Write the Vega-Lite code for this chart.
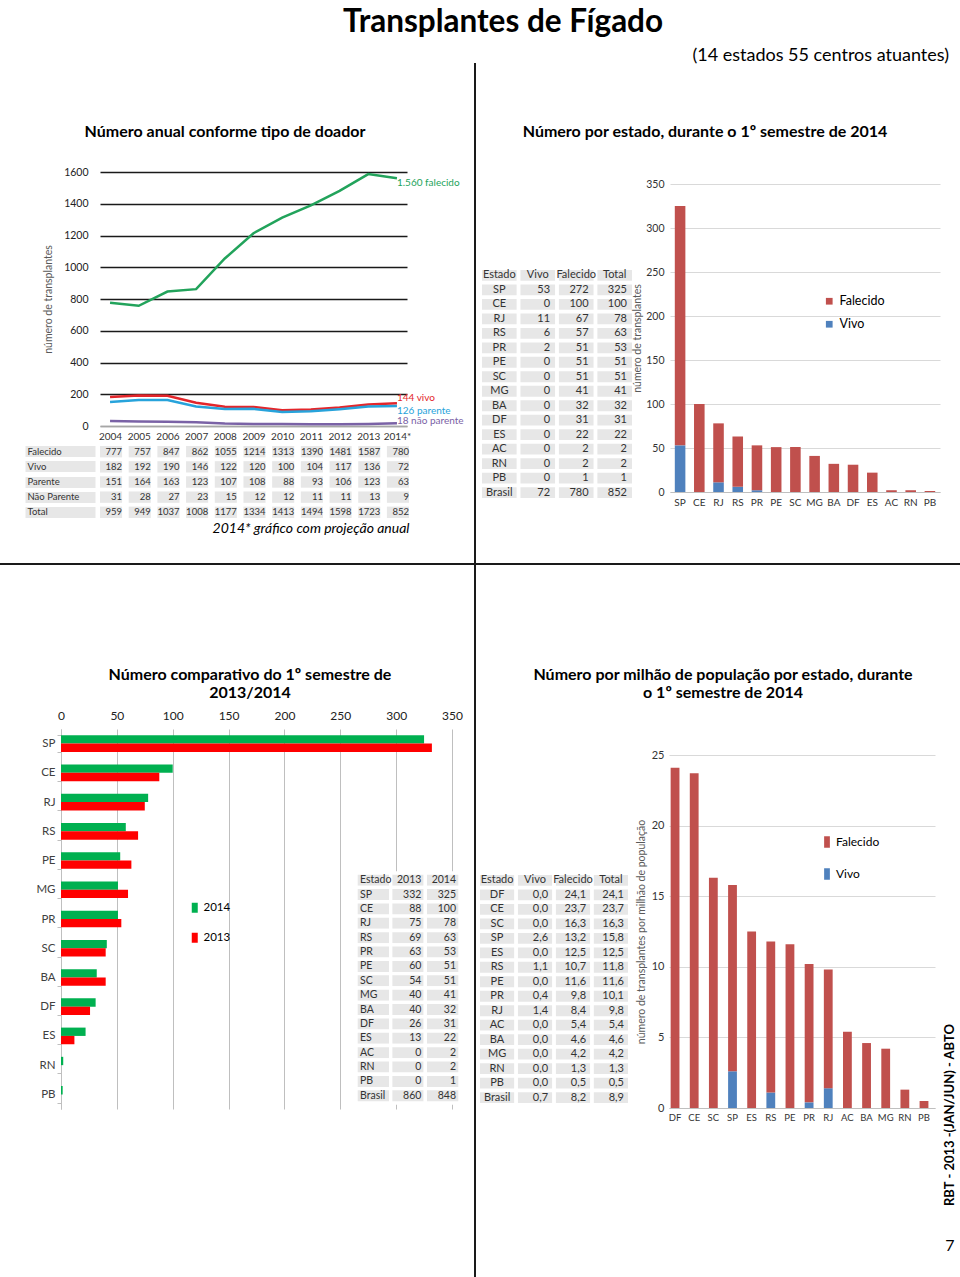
{
  "$schema": "https://vega.github.io/schema/vega-lite/v6.json",
  "background": "white",
  "padding": {"top": 6, "left": 0, "right": 0, "bottom": 0},
  "config": {
    "font": "Lato",
    "view": {"stroke": null},
    "locale": {"number": {"decimal": ",", "thousands": ".", "grouping": [3], "currency": ["", ""]}},
    "axis": {"labelColor": "#404040", "titleColor": "#595959", "titleFontWeight": "normal", "labelFont": "Lato", "titleFont": "Lato"},
    "legend": {"labelFont": "Lato", "labelColor": "#000"},
    "title": {"font": "Lato", "color": "#000"}
  },
  "title": {"text": "Transplantes de Fígado", "fontSize": 31.5, "fontWeight": "bold", "anchor": "middle", "offset": 9, "dx": 23},
  "datasets": {
    "linhas": [
      {"ano": "2004", "Falecido": 777, "Vivo": 182, "Parente": 151, "Não Parente": 31},
      {"ano": "2005", "Falecido": 757, "Vivo": 192, "Parente": 164, "Não Parente": 28},
      {"ano": "2006", "Falecido": 847, "Vivo": 190, "Parente": 163, "Não Parente": 27},
      {"ano": "2007", "Falecido": 862, "Vivo": 146, "Parente": 123, "Não Parente": 23},
      {"ano": "2008", "Falecido": 1055, "Vivo": 122, "Parente": 107, "Não Parente": 15},
      {"ano": "2009", "Falecido": 1214, "Vivo": 120, "Parente": 108, "Não Parente": 12},
      {"ano": "2010", "Falecido": 1313, "Vivo": 100, "Parente": 88, "Não Parente": 12},
      {"ano": "2011", "Falecido": 1390, "Vivo": 104, "Parente": 93, "Não Parente": 11},
      {"ano": "2012", "Falecido": 1481, "Vivo": 117, "Parente": 106, "Não Parente": 11},
      {"ano": "2013", "Falecido": 1587, "Vivo": 136, "Parente": 123, "Não Parente": 13},
      {"ano": "2014*", "Falecido": 1560, "Vivo": 144, "Parente": 126, "Não Parente": 18}
    ],
    "rotulos": [
      {"ano": "2014*", "serie": "Falecido", "valor": 1560, "texto": "1.560 falecido"},
      {"ano": "2014*", "serie": "Vivo", "valor": 144, "texto": "144 vivo"},
      {"ano": "2014*", "serie": "Parente", "valor": 126, "texto": "126  parente"},
      {"ano": "2014*", "serie": "Não Parente", "valor": 18, "texto": "18 não parente"}
    ],
    "tabela_anual": [
      {"ano": "2004", "Falecido": 777, "Vivo": 182, "Parente": 151, "Não Parente": 31, "Total": 959},
      {"ano": "2005", "Falecido": 757, "Vivo": 192, "Parente": 164, "Não Parente": 28, "Total": 949},
      {"ano": "2006", "Falecido": 847, "Vivo": 190, "Parente": 163, "Não Parente": 27, "Total": 1037},
      {"ano": "2007", "Falecido": 862, "Vivo": 146, "Parente": 123, "Não Parente": 23, "Total": 1008},
      {"ano": "2008", "Falecido": 1055, "Vivo": 122, "Parente": 107, "Não Parente": 15, "Total": 1177},
      {"ano": "2009", "Falecido": 1214, "Vivo": 120, "Parente": 108, "Não Parente": 12, "Total": 1334},
      {"ano": "2010", "Falecido": 1313, "Vivo": 100, "Parente": 88, "Não Parente": 12, "Total": 1413},
      {"ano": "2011", "Falecido": 1390, "Vivo": 104, "Parente": 93, "Não Parente": 11, "Total": 1494},
      {"ano": "2012", "Falecido": 1481, "Vivo": 117, "Parente": 106, "Não Parente": 11, "Total": 1598},
      {"ano": "2013", "Falecido": 1587, "Vivo": 136, "Parente": 123, "Não Parente": 13, "Total": 1723},
      {"ano": "2014*", "Falecido": 780, "Vivo": 72, "Parente": 63, "Não Parente": 9, "Total": 852}
    ],
    "estados": [
      {"Estado": "SP", "Vivo": 53, "Falecido": 272, "Total": 325},
      {"Estado": "CE", "Vivo": 0, "Falecido": 100, "Total": 100},
      {"Estado": "RJ", "Vivo": 11, "Falecido": 67, "Total": 78},
      {"Estado": "RS", "Vivo": 6, "Falecido": 57, "Total": 63},
      {"Estado": "PR", "Vivo": 2, "Falecido": 51, "Total": 53},
      {"Estado": "PE", "Vivo": 0, "Falecido": 51, "Total": 51},
      {"Estado": "SC", "Vivo": 0, "Falecido": 51, "Total": 51},
      {"Estado": "MG", "Vivo": 0, "Falecido": 41, "Total": 41},
      {"Estado": "BA", "Vivo": 0, "Falecido": 32, "Total": 32},
      {"Estado": "DF", "Vivo": 0, "Falecido": 31, "Total": 31},
      {"Estado": "ES", "Vivo": 0, "Falecido": 22, "Total": 22},
      {"Estado": "AC", "Vivo": 0, "Falecido": 2, "Total": 2},
      {"Estado": "RN", "Vivo": 0, "Falecido": 2, "Total": 2},
      {"Estado": "PB", "Vivo": 0, "Falecido": 1, "Total": 1},
      {"Estado": "Brasil", "Vivo": 72, "Falecido": 780, "Total": 852}
    ],
    "cab_estados": [{"col": "Estado"}, {"col": "Vivo"}, {"col": "Falecido"}, {"col": "Total"}],
    "comparativo_barras": [
      {"Estado": "SP", "2014": 325, "2013": 332},
      {"Estado": "CE", "2014": 100, "2013": 88},
      {"Estado": "RJ", "2014": 78, "2013": 75},
      {"Estado": "RS", "2014": 58, "2013": 69},
      {"Estado": "PE", "2014": 53, "2013": 63},
      {"Estado": "MG", "2014": 51, "2013": 60},
      {"Estado": "PR", "2014": 51, "2013": 54},
      {"Estado": "SC", "2014": 41, "2013": 40},
      {"Estado": "BA", "2014": 32, "2013": 40},
      {"Estado": "DF", "2014": 31, "2013": 26},
      {"Estado": "ES", "2014": 22, "2013": 12},
      {"Estado": "RN", "2014": 2, "2013": 0},
      {"Estado": "PB", "2014": 1.5, "2013": 0}
    ],
    "comparativo_tabela": [
      {"Estado": "Estado", "2013": "2013", "2014": "2014"},
      {"Estado": "SP", "2013": 332, "2014": 325},
      {"Estado": "CE", "2013": 88, "2014": 100},
      {"Estado": "RJ", "2013": 75, "2014": 78},
      {"Estado": "RS", "2013": 69, "2014": 63},
      {"Estado": "PR", "2013": 63, "2014": 53},
      {"Estado": "PE", "2013": 60, "2014": 51},
      {"Estado": "SC", "2013": 54, "2014": 51},
      {"Estado": "MG", "2013": 40, "2014": 41},
      {"Estado": "BA", "2013": 40, "2014": 32},
      {"Estado": "DF", "2013": 26, "2014": 31},
      {"Estado": "ES", "2013": 13, "2014": 22},
      {"Estado": "AC", "2013": 0, "2014": 2},
      {"Estado": "RN", "2013": 0, "2014": 2},
      {"Estado": "PB", "2013": 0, "2014": 1},
      {"Estado": "Brasil", "2013": 860, "2014": 848}
    ],
    "pmp": [
      {"Estado": "DF", "Vivo": 0.0, "Falecido": 24.1, "Total": 24.1},
      {"Estado": "CE", "Vivo": 0.0, "Falecido": 23.7, "Total": 23.7},
      {"Estado": "SC", "Vivo": 0.0, "Falecido": 16.3, "Total": 16.3},
      {"Estado": "SP", "Vivo": 2.6, "Falecido": 13.2, "Total": 15.8},
      {"Estado": "ES", "Vivo": 0.0, "Falecido": 12.5, "Total": 12.5},
      {"Estado": "RS", "Vivo": 1.1, "Falecido": 10.7, "Total": 11.8},
      {"Estado": "PE", "Vivo": 0.0, "Falecido": 11.6, "Total": 11.6},
      {"Estado": "PR", "Vivo": 0.4, "Falecido": 9.8, "Total": 10.1},
      {"Estado": "RJ", "Vivo": 1.4, "Falecido": 8.4, "Total": 9.8},
      {"Estado": "AC", "Vivo": 0.0, "Falecido": 5.4, "Total": 5.4},
      {"Estado": "BA", "Vivo": 0.0, "Falecido": 4.6, "Total": 4.6},
      {"Estado": "MG", "Vivo": 0.0, "Falecido": 4.2, "Total": 4.2},
      {"Estado": "RN", "Vivo": 0.0, "Falecido": 1.3, "Total": 1.3},
      {"Estado": "PB", "Vivo": 0.0, "Falecido": 0.5, "Total": 0.5},
      {"Estado": "Brasil", "Vivo": 0.7, "Falecido": 8.2, "Total": 8.9}
    ]
  },
  "spacing": 0,
  "resolve": {"scale": {"color": "independent"}},
  "vconcat": [
    {
      "title": {"text": "(14 estados 55 centros atuantes)", "anchor": "end", "frame": "bounds", "fontSize": 18, "fontWeight": "normal", "offset": -2, "dx": 9},
      "spacing": 10,
      "resolve": {"scale": {"color": "independent"}},
      "hconcat": [
        {"width": 9, "height": 1, "data": {"values": [{}]}, "mark": {"type": "rect", "color": "white"}},
        {
          "bounds": "flush",
          "spacing": 20,
          "resolve": {"scale": {"color": "independent"}},
          "vconcat": [
            {
              "width": 250, "height": 89,
              "data": {"values": [{"texto": "Número anual conforme tipo de doador"}]},
              "mark": {"type": "text", "fontSize": 16, "fontWeight": "bold", "color": "#000", "dy": 24},
              "encoding": {"text": {"field": "texto"}}
            },
            {
              "width": 307, "height": 254,
              "encoding": {
                "x": {"field": "ano", "type": "ordinal", "scale": {"type": "point", "padding": 0.35, "domain": ["2004", "2005", "2006", "2007", "2008", "2009", "2010", "2011", "2012", "2013", "2014*"]}, "axis": {"title": null, "labelAngle": 0, "labelFontSize": 10, "labelColor": "#333", "ticks": false, "domainColor": "#A6A6A6", "domainWidth": 1.5, "labelPadding": 5, "grid": false}},
                "y": {"field": "valor", "type": "quantitative", "scale": {"domain": [0, 1600], "nice": false}, "axis": {"values": [0, 200, 400, 600, 800, 1000, 1200, 1400, 1600], "format": "d", "title": "número de transplantes", "titleFontSize": 10.5, "titlePadding": 10, "labelFontSize": 10.5, "labelColor": "#222", "labelPadding": 12, "ticks": false, "domain": false, "gridWidth": 1.3, "gridColor": {"condition": {"test": "datum.value === 0", "value": "#A6A6A6"}, "value": "#1a1a1a"}}},
                "color": {"field": "serie", "type": "nominal", "scale": {"domain": ["Falecido", "Vivo", "Parente", "Não Parente"], "range": ["#22A35B", "#E3262B", "#27A3DB", "#7A62A6"]}, "legend": null}
              },
              "layer": [
                {
                  "data": {"name": "linhas"},
                  "transform": [{"fold": ["Falecido", "Vivo", "Parente", "Não Parente"], "as": ["serie", "valor"]}],
                  "mark": {"type": "line", "strokeWidth": 2.5}
                },
                {
                  "data": {"name": "rotulos"},
                  "transform": [{"filter": {"field": "serie", "oneOf": ["Falecido", "Parente"]}}],
                  "mark": {"type": "text", "align": "left", "baseline": "top", "fontSize": 10},
                  "encoding": {"text": {"field": "texto"}}
                },
                {
                  "data": {"name": "rotulos"},
                  "transform": [{"filter": {"field": "serie", "equal": "Vivo"}}],
                  "mark": {"type": "text", "align": "left", "baseline": "bottom", "fontSize": 10},
                  "encoding": {"text": {"field": "texto"}}
                },
                {
                  "data": {"name": "rotulos"},
                  "transform": [{"filter": {"field": "serie", "equal": "Não Parente"}}],
                  "mark": {"type": "text", "align": "left", "baseline": "middle", "fontSize": 10, "dy": -2},
                  "encoding": {"text": {"field": "texto"}}
                }
              ]
            },
            {
              "width": 309, "height": 72,
              "data": {"name": "tabela_anual"},
              "transform": [{"fold": ["Falecido", "Vivo", "Parente", "Não Parente", "Total"], "as": ["linha", "valor"]}],
              "encoding": {
                "x": {"field": "ano", "type": "ordinal", "title": "2014* gráfico com projeção anual", "scale": {"type": "band", "domain": ["2004", "2005", "2006", "2007", "2008", "2009", "2010", "2011", "2012", "2013", "2014*"], "paddingInner": 0.23, "paddingOuter": 0}, "axis": {"orient": "bottom", "titleFontStyle": "italic", "titleFontSize": 14, "titleColor": "#000", "titleAnchor": "end", "titlePadding": 3, "labels": false, "ticks": false, "domain": false, "grid": false}},
                "y": {"field": "linha", "type": "nominal", "title": null, "scale": {"domain": ["Falecido", "Vivo", "Parente", "Não Parente", "Total"], "paddingInner": 0.25, "paddingOuter": 0}, "axis": {"offset": 5, "ticks": true, "tickSize": 70, "tickWidth": 11, "tickColor": "#E7E7E7", "bandPosition": 0.5, "labelAlign": "left", "labelPadding": -2, "labelFontSize": 9.5, "labelColor": "#333", "domain": false, "grid": false}}
              },
              "layer": [
                {"mark": {"type": "rect", "color": "#E7E7E7"}},
                {
                  "mark": {"type": "text", "align": "right", "fontSize": 9.5, "color": "#333"},
                  "encoding": {"x": {"field": "ano", "type": "ordinal", "bandPosition": 1, "title": "2014* gráfico com projeção anual"}, "text": {"field": "valor", "type": "nominal"}}
                }
              ]
            }
          ]
        },
        {
          "spacing": 6,
          "resolve": {"scale": {"color": "independent"}},
          "hconcat": [
            {"width": 2, "height": 500, "data": {"values": [{}]}, "mark": {"type": "rect", "color": "#1a1a1a"}},
            {
              "spacing": 0,
              "resolve": {"scale": {"color": "independent"}},
              "vconcat": [
                {
                  "width": 446, "height": 116,
                  "data": {"values": [{"texto": "Número por estado, durante o 1º semestre de 2014"}]},
                  "mark": {"type": "text", "fontSize": 16, "fontWeight": "bold", "color": "#000", "dy": 11},
                  "encoding": {"text": {"field": "texto"}}
                },
                {
                  "spacing": 0,
                  "resolve": {"scale": {"color": "independent"}},
                  "hconcat": [
                    {
                      "bounds": "flush",
                      "spacing": 0,
                      "vconcat": [
                        {"width": 1, "height": 86, "data": {"values": [{}]}, "mark": {"type": "rect", "color": "white"}},
                        {
                          "width": 150, "height": 228,
                          "layer": [
                            {
                              "data": {"name": "estados"},
                              "transform": [{"fold": ["Estado", "Vivo", "Falecido", "Total"], "as": ["col", "val"]}],
                              "mark": {"type": "rect", "color": "#E7E7E7"},
                              "encoding": {
                                "x": {"field": "col", "type": "nominal", "scale": {"domain": ["Estado", "Vivo", "Falecido", "Total"], "paddingInner": 0.1, "paddingOuter": 0}, "axis": null},
                                "y": {"field": "Estado", "type": "nominal", "scale": {"domain": ["Estado", "SP", "CE", "RJ", "RS", "PR", "PE", "SC", "MG", "BA", "DF", "ES", "AC", "RN", "PB", "Brasil"], "paddingInner": 0.25, "paddingOuter": 0}, "axis": null}
                              }
                            },
                            {
                              "data": {"name": "cab_estados"},
                              "mark": {"type": "rect", "color": "#E7E7E7"},
                              "encoding": {"x": {"field": "col", "type": "nominal", "axis": null}, "y": {"datum": "Estado", "type": "nominal", "axis": null}}
                            },
                            {
                              "data": {"name": "cab_estados"},
                              "mark": {"type": "text", "fontSize": 11, "color": "#333"},
                              "encoding": {"x": {"field": "col", "type": "nominal", "axis": null}, "y": {"datum": "Estado", "type": "nominal", "axis": null}, "text": {"field": "col"}}
                            },
                            {
                              "data": {"name": "estados"},
                              "mark": {"type": "text", "fontSize": 11, "color": "#333"},
                              "encoding": {"x": {"datum": "Estado", "type": "nominal", "axis": null}, "y": {"field": "Estado", "type": "nominal", "axis": null}, "text": {"field": "Estado"}}
                            },
                            {
                              "data": {"name": "estados"},
                              "transform": [{"fold": ["Vivo", "Falecido", "Total"], "as": ["col", "val"]}],
                              "mark": {"type": "text", "align": "right", "dx": -5, "fontSize": 11, "color": "#333"},
                              "encoding": {"x": {"field": "col", "type": "nominal", "bandPosition": 1, "axis": null}, "y": {"field": "Estado", "type": "nominal", "axis": null}, "text": {"field": "val", "type": "nominal"}}
                            }
                          ]
                        }
                      ]
                    },
                    {
                      "width": 270, "height": 308,
                      "data": {"name": "estados"},
                      "transform": [{"filter": "datum.Estado !== 'Brasil'"}, {"fold": ["Vivo", "Falecido"], "as": ["tipo", "n"]}],
                      "mark": {"type": "bar"},
                      "encoding": {
                        "x": {"field": "Estado", "type": "nominal", "sort": null, "scale": {"domain": ["SP", "CE", "RJ", "RS", "PR", "PE", "SC", "MG", "BA", "DF", "ES", "AC", "RN", "PB"], "paddingInner": 0.45, "paddingOuter": 0.25}, "axis": {"title": null, "labelAngle": 0, "labelFontSize": 10, "labelColor": "#333", "ticks": false, "domainColor": "#BFBFBF", "labelPadding": 5}},
                        "y": {"field": "n", "type": "quantitative", "stack": "zero", "scale": {"domain": [0, 350], "nice": false}, "axis": {"values": [0, 50, 100, 150, 200, 250, 300, 350], "title": "número de transplantes", "titleFontSize": 10.5, "titlePadding": 3, "labelFontSize": 10.5, "labelColor": "#333", "labelPadding": 6, "ticks": false, "domain": false, "gridColor": "#D9D9D9"}},
                        "color": {"field": "tipo", "type": "nominal", "scale": {"domain": ["Falecido", "Vivo"], "range": ["#C0504D", "#4F81BD"]}, "legend": {"title": null, "orient": "none", "legendX": 153, "legendY": 111, "symbolType": "square", "symbolSize": 45, "symbolStrokeWidth": 0, "labelFontSize": 12.5, "rowPadding": 10, "labelOffset": 4}},
                        "order": {"field": "tipo", "sort": "descending"}
                      }
                    }
                  ]
                }
              ]
            }
          ]
        }
      ]
    },
    {"width": 960, "height": 2, "data": {"values": [{}]}, "mark": {"type": "rect", "color": "#1a1a1a"}},
    {
      "spacing": 11,
      "resolve": {"scale": {"color": "independent"}},
      "hconcat": [
        {"width": 24, "height": 1, "data": {"values": [{}]}, "mark": {"type": "rect", "color": "white"}},
        {
          "bounds": "flush",
          "spacing": 0,
          "resolve": {"scale": {"color": "independent"}},
          "vconcat": [
            {
              "width": 378, "height": 164,
              "data": {"values": [{"texto": "Número comparativo do 1º semestre de\n2013/2014"}]},
              "mark": {"type": "text", "fontSize": 16, "fontWeight": "bold", "color": "#000", "dy": 28, "lineBreak": "\n", "lineHeight": 18},
              "encoding": {"text": {"field": "texto"}}
            },
            {
              "width": 391, "height": 380,
              "resolve": {"scale": {"x": "independent", "y": "independent"}},
              "layer": [
                {
                  "data": {"name": "comparativo_barras"},
                  "transform": [{"fold": ["2014", "2013"], "as": ["ano", "valor"]}],
                  "mark": {"type": "bar"},
                  "encoding": {
                    "y": {"field": "Estado", "type": "nominal", "sort": null, "scale": {"domain": ["SP", "CE", "RJ", "RS", "PE", "MG", "PR", "SC", "BA", "DF", "ES", "RN", "PB"], "paddingInner": 0.43, "paddingOuter": 0.215}, "axis": {"title": null, "labelFontSize": 11.5, "labelColor": "#404040", "labelPadding": 2, "ticks": true, "tickBand": "extent", "tickSize": 4, "tickColor": "#BFBFBF", "domainColor": "#BFBFBF", "grid": false}},
                    "yOffset": {"field": "ano", "type": "nominal", "sort": ["2014", "2013"], "scale": {"domain": ["2014", "2013"]}},
                    "x": {"field": "valor", "type": "quantitative", "scale": {"domain": [0, 350], "nice": false}, "axis": {"orient": "top", "values": [0, 50, 100, 150, 200, 250, 300, 350], "title": null, "labelFontSize": 12, "labelColor": "#222", "labelPadding": 7, "labelFlush": false, "ticks": false, "domain": false, "gridColor": "#BFBFBF", "gridWidth": 1}},
                    "color": {"field": "ano", "type": "nominal", "scale": {"domain": ["2014", "2013"], "range": ["#00B050", "#FF0000"]}, "legend": {"title": null, "orient": "none", "legendX": 128, "legendY": 173, "symbolType": "M-0.6,-1H0.6V1H-0.6Z", "symbolSize": 100, "symbolStrokeWidth": 0, "labelFontSize": 11.5, "rowPadding": 17, "labelOffset": 3}}
                  }
                },
                {
                  "data": {"name": "comparativo_tabela"},
                  "layer": [
                    {
                      "transform": [{"fold": ["Estado", "2013", "2014"], "as": ["col", "val"]}],
                      "mark": {"type": "rect", "color": "#E7E7E7", "stroke": "white", "strokeWidth": 3.4},
                      "encoding": {
                        "x": {"field": "col", "type": "nominal", "scale": {"domain": ["Estado", "2013", "2014"], "range": [295, 399], "paddingInner": 0, "paddingOuter": 0}, "axis": null},
                        "y": {"field": "Estado", "type": "nominal", "scale": {"domain": ["Estado", "SP", "CE", "RJ", "RS", "PR", "PE", "SC", "MG", "BA", "DF", "ES", "AC", "RN", "PB", "Brasil"], "range": [144, 374], "paddingInner": 0, "paddingOuter": 0}, "axis": null}
                      }
                    },
                    {
                      "transform": [{"fold": ["Estado"], "as": ["col", "val"]}],
                      "mark": {"type": "text", "align": "left", "dx": 4, "fontSize": 10.5, "color": "#333"},
                      "encoding": {"x": {"field": "col", "type": "nominal", "bandPosition": 0, "axis": null}, "y": {"field": "Estado", "type": "nominal", "axis": null}, "text": {"field": "val", "type": "nominal"}}
                    },
                    {
                      "transform": [{"fold": ["2013", "2014"], "as": ["col", "val"]}],
                      "mark": {"type": "text", "align": "right", "dx": -4, "fontSize": 10.5, "color": "#333"},
                      "encoding": {"x": {"field": "col", "type": "nominal", "bandPosition": 1, "axis": null}, "y": {"field": "Estado", "type": "nominal", "axis": null}, "text": {"field": "val", "type": "nominal"}}
                    }
                  ]
                }
              ]
            }
          ]
        },
        {
          "spacing": 4,
          "resolve": {"scale": {"color": "independent"}},
          "hconcat": [
            {"width": 2, "height": 713, "data": {"values": [{}]}, "mark": {"type": "rect", "color": "#1a1a1a"}},
            {
              "spacing": 9,
              "resolve": {"scale": {"color": "independent"}},
              "hconcat": [
                {
                  "spacing": 0,
                  "resolve": {"scale": {"color": "independent"}},
                  "vconcat": [
                    {
                      "width": 452, "height": 184,
                      "data": {"values": [{"texto": "Número por milhão de população por estado, durante\no 1º semestre de 2014"}]},
                      "mark": {"type": "text", "fontSize": 16, "fontWeight": "bold", "color": "#000", "dy": 18, "dx": 17, "lineBreak": "\n", "lineHeight": 18},
                      "encoding": {"text": {"field": "texto"}}
                    },
                    {
                      "spacing": 8,
                      "resolve": {"scale": {"color": "independent"}},
                      "hconcat": [
                        {
                          "bounds": "flush",
                          "spacing": 0,
                          "vconcat": [
                            {"width": 1, "height": 120, "data": {"values": [{}]}, "mark": {"type": "rect", "color": "white"}},
                            {
                              "width": 148, "height": 228,
                              "layer": [
                                {
                                  "data": {"name": "pmp"},
                                  "transform": [{"fold": ["Estado", "Vivo", "Falecido", "Total"], "as": ["col", "val"]}],
                                  "mark": {"type": "rect", "color": "#E7E7E7"},
                                  "encoding": {
                                    "x": {"field": "col", "type": "nominal", "scale": {"domain": ["Estado", "Vivo", "Falecido", "Total"], "paddingInner": 0.1, "paddingOuter": 0}, "axis": null},
                                    "y": {"field": "Estado", "type": "nominal", "scale": {"domain": ["Estado", "DF", "CE", "SC", "SP", "ES", "RS", "PE", "PR", "RJ", "AC", "BA", "MG", "RN", "PB", "Brasil"], "paddingInner": 0.25, "paddingOuter": 0}, "axis": null}
                                  }
                                },
                                {
                                  "data": {"name": "cab_estados"},
                                  "mark": {"type": "rect", "color": "#E7E7E7"},
                                  "encoding": {"x": {"field": "col", "type": "nominal", "axis": null}, "y": {"datum": "Estado", "type": "nominal", "axis": null}}
                                },
                                {
                                  "data": {"name": "cab_estados"},
                                  "mark": {"type": "text", "fontSize": 11, "color": "#333"},
                                  "encoding": {"x": {"field": "col", "type": "nominal", "axis": null}, "y": {"datum": "Estado", "type": "nominal", "axis": null}, "text": {"field": "col"}}
                                },
                                {
                                  "data": {"name": "pmp"},
                                  "mark": {"type": "text", "fontSize": 11, "color": "#333"},
                                  "encoding": {"x": {"datum": "Estado", "type": "nominal", "axis": null}, "y": {"field": "Estado", "type": "nominal", "axis": null}, "text": {"field": "Estado"}}
                                },
                                {
                                  "data": {"name": "pmp"},
                                  "transform": [{"fold": ["Vivo", "Falecido", "Total"], "as": ["col", "val"]}],
                                  "mark": {"type": "text", "align": "right", "dx": -4, "fontSize": 11, "color": "#333"},
                                  "encoding": {"x": {"field": "col", "type": "nominal", "bandPosition": 1, "axis": null}, "y": {"field": "Estado", "type": "nominal", "axis": null}, "text": {"field": "val", "type": "quantitative", "format": ".1f"}}
                                }
                              ]
                            }
                          ]
                        },
                        {
                          "width": 266, "height": 353,
                          "data": {"name": "pmp"},
                          "transform": [{"filter": "datum.Estado !== 'Brasil'"}, {"fold": ["Vivo", "Falecido"], "as": ["tipo", "n"]}],
                          "mark": {"type": "bar"},
                          "encoding": {
                            "x": {"field": "Estado", "type": "nominal", "sort": null, "scale": {"domain": ["DF", "CE", "SC", "SP", "ES", "RS", "PE", "PR", "RJ", "AC", "BA", "MG", "RN", "PB"], "paddingInner": 0.54, "paddingOuter": 0.215, "align": 0.2}, "axis": {"title": null, "labelAngle": 0, "labelFontSize": 9.5, "labelColor": "#333", "ticks": false, "domainColor": "#BFBFBF", "labelPadding": 4}},
                            "y": {"field": "n", "type": "quantitative", "stack": "zero", "scale": {"domain": [0, 25], "nice": false}, "axis": {"values": [0, 5, 10, 15, 20, 25], "title": "número de transplantes por milhão de população", "titleFontSize": 10.5, "titlePadding": 5, "labelFontSize": 11, "labelColor": "#333", "labelPadding": 5, "ticks": false, "domain": false, "gridColor": "#D9D9D9"}},
                            "color": {"field": "tipo", "type": "nominal", "scale": {"domain": ["Falecido", "Vivo"], "range": ["#C0504D", "#4F81BD"]}, "legend": {"title": null, "orient": "none", "legendX": 152, "legendY": 81, "symbolType": "M-0.5,-1H0.5V1H-0.5Z", "symbolSize": 132, "symbolStrokeWidth": 0, "labelFontSize": 12, "rowPadding": 20, "labelOffset": 3}},
                            "order": {"field": "tipo", "sort": "descending"}
                          }
                        }
                      ]
                    }
                  ]
                },
                {
                  "width": 10, "height": 641,
                  "data": {"values": [{"rotulo": "RBT - 2013 -(JAN/JUN) - ABTO", "pagina": "7"}]},
                  "encoding": {"y": {"datum": 0, "type": "quantitative", "scale": {"domain": [0, 1]}, "axis": null}},
                  "layer": [
                    {"mark": {"type": "text", "angle": 270, "align": "left", "baseline": "middle", "fontSize": 13, "fontWeight": "bold", "color": "#000"}, "encoding": {"text": {"field": "rotulo"}}},
                    {"mark": {"type": "text", "fontSize": 16, "color": "#000", "dy": 40}, "encoding": {"text": {"field": "pagina"}}}
                  ]
                }
              ]
            }
          ]
        }
      ]
    }
  ]
}
